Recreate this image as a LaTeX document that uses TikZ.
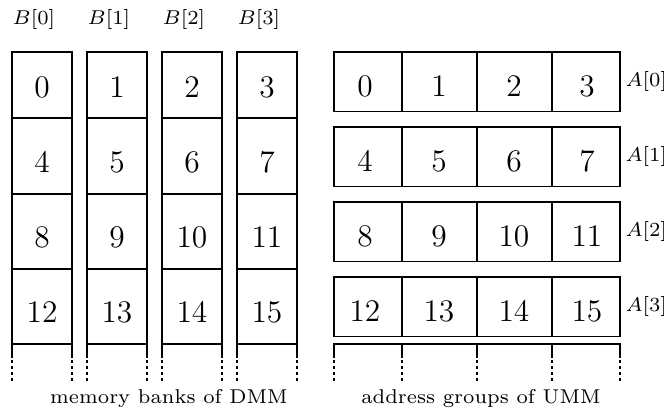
\documentclass[tikz,border=0pt]{standalone}
\begin{document}
\begin{tikzpicture}[x=0.35pt,y=-0.35pt,line width=0.4pt,
  num/.style={font=\fontsize{11}{13}\selectfont,anchor=base,inner sep=0pt},
  lbl/.style={font=\fontsize{7}{8.4}\selectfont,anchor=west,inner sep=0pt},
  captext/.style={font=\fontsize{7}{8.4}\selectfont,anchor=base,inner sep=0pt},
  tail/.style={dash pattern=on 1pt off 1.1pt}]
\useasboundingbox (0,0) rectangle (664,411);

% memory banks B[0..3]
\foreach \k in {0,...,3}{
  \pgfmathsetmacro\xl{12+75*\k}
  \pgfmathsetmacro\xr{72+75*\k}
  \draw (\xl,358) -- (\xl,52) -- (\xr,52) -- (\xr,358);
  \foreach \y in {118,194,269,344} \draw (\xl,\y) -- (\xr,\y);
  \draw[tail] (\xl,360) -- (\xl,381);
  \draw[tail] (\xr,360) -- (\xr,381);
  \node[lbl] (B\k) at (\xl,19) {$B[\k]$};
  \foreach \r in {0,...,3}{
    \pgfmathtruncatemacro\n{4*\r+\k}
    \node[num] (m\n) at (42+75*\k,97+75*\r) {\n};
  }
}

% address groups A[0..3]
\foreach \r in {0,...,3}{
  \pgfmathsetmacro\yt{52+75*\r}
  \pgfmathsetmacro\yb{111.5+75*\r}
  \draw (334,\yt) rectangle (620,\yb);
  \foreach \x in {402,477,552} \draw (\x,\yt) -- (\x,\yb);
  \node[lbl] (A\r) at (625,\yt+29.5) {$A[\r]$};
  \foreach \k/\cx in {0/365,1/439,2/514,3/587}{
    \pgfmathtruncatemacro\n{4*\r+\k}
    \node[num] (u\n) at (\cx,96+75*\r) {\n};
  }
}

% open continuation below the address groups
\draw (334,358) -- (334,344) -- (620,344) -- (620,358);
\foreach \x in {402,477,552} \draw (\x,344) -- (\x,358);
\foreach \x in {334,402,477,552,620} \draw[tail] (\x,360) -- (\x,381);

% captions
\node[captext] (capL) at (169,403) {memory banks of DMM};
\node[captext] (capR) at (481,403) {address groups of UMM};
\end{tikzpicture}
\end{document}
